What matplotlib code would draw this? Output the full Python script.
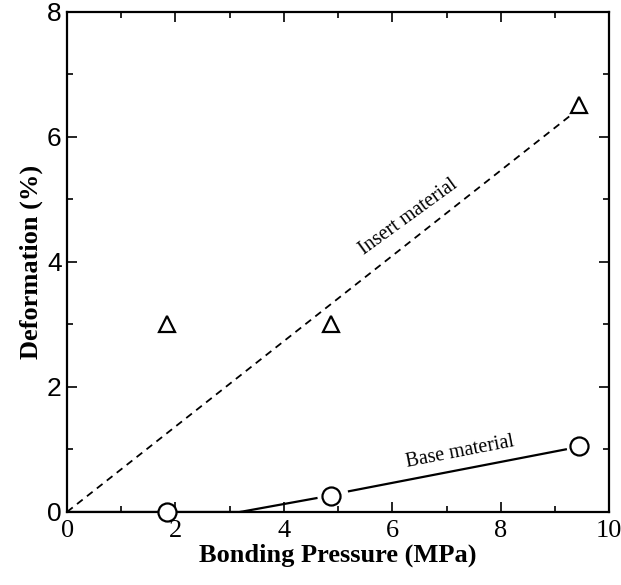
import matplotlib
matplotlib.use('Agg')
import matplotlib.pyplot as plt
from matplotlib.ticker import MultipleLocator

# measured points
pressure = [1.85, 4.87, 9.45]
insert_def = [3.0, 3.0, 6.5]
base_def = [0.0, 0.25, 1.05]

# trend lines drawn in the original
insert_fit_x = [0.0, 9.3]
insert_fit_y = [0.0, 6.35]
base_fit_x = [0.0, 3.2, 4.6, 5.2, 9.2]
base_fit_y = [0.0, 0.0, 0.22, 0.33, 1.0]

fig = plt.figure(figsize=(6.21, 5.85), dpi=100)
ax = fig.add_axes([0.108, 0.125, 0.873, 0.855])

ax.plot(insert_fit_x, insert_fit_y, color='black', linestyle=(0, (4, 3)), linewidth=1.3)
ax.plot(base_fit_x[:2], base_fit_y[:2], color='black', linewidth=1.6)
ax.plot(base_fit_x[1:3], base_fit_y[1:3], color='black', linewidth=1.6)
ax.plot(base_fit_x[3:], base_fit_y[3:], color='black', linewidth=1.6)

ax.plot(pressure, insert_def, linestyle='none', marker='^', markersize=12,
        markerfacecolor='white', markeredgecolor='black', markeredgewidth=1.6, clip_on=False)
ax.plot(pressure, base_def, linestyle='none', marker='o', markersize=13,
        markerfacecolor='white', markeredgecolor='black', markeredgewidth=1.6, clip_on=False, zorder=5)

ax.text(6.3, 4.72, 'Insert material', rotation=36, ha='center', va='center',
        family='Liberation Serif', fontsize=14.5)
ax.text(7.25, 0.95, 'Base material', rotation=11, ha='center', va='center',
        family='Liberation Serif', fontsize=14.5)

ax.set_xlim(0, 10)
ax.set_ylim(0, 8)
ax.xaxis.set_major_locator(MultipleLocator(2))
ax.xaxis.set_minor_locator(MultipleLocator(1))
ax.yaxis.set_major_locator(MultipleLocator(2))
ax.yaxis.set_minor_locator(MultipleLocator(1))
ax.tick_params(which='both', direction='in', top=True, right=True, width=1.2)
ax.tick_params(which='major', length=7, labelsize=19)
ax.tick_params(which='minor', length=4)
ax.tick_params(axis='x', pad=6)
ax.tick_params(axis='y', pad=4)
for lab in ax.get_xticklabels():
    lab.set_family('Liberation Serif')
for lab in ax.get_yticklabels():
    lab.set_family('Liberation Sans')
for s in ax.spines.values():
    s.set_linewidth(1.6)

ax.set_xlabel('Bonding Pressure (MPa)', family='Liberation Serif', fontweight='bold',
              fontsize=19, labelpad=1)
ax.set_ylabel('Deformation (%)', family='Liberation Serif', fontweight='bold',
              fontsize=19, labelpad=3)

fig.savefig('out.png', dpi=100)
